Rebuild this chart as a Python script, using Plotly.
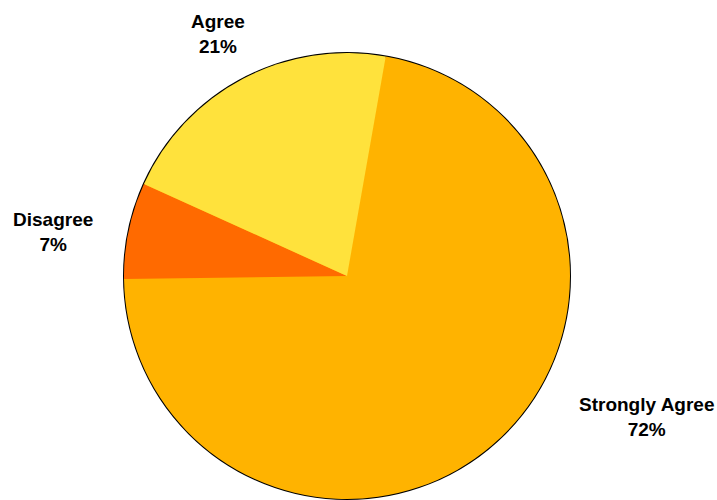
import plotly.graph_objects as go

labels = ["Strongly Agree", "Disagree", "Agree"]
values = [72, 7, 21]
colors = ["#FFB300", "#FF6A00", "#FFE23C"]
# label anchor positions (pixels) for the outside text
label_x = [647, 53, 218]
label_y = [417, 232, 34]

W, H = 717, 500
cx, cy, r = 347, 276, 223
domain = dict(x=[(cx - r) / W, (cx + r) / W], y=[(H - cy - r) / H, (H - cy + r) / H])

fig = go.Figure()
# outer rim only (slice separators have no outline in the reference)
fig.add_trace(go.Pie(
    labels=["rim"], values=[1], sort=False,
    marker=dict(colors=["#FFB300"], line=dict(color="#000000", width=2)),
    textinfo="none", hoverinfo="skip", showlegend=False, domain=domain,
))
fig.add_trace(go.Pie(
    labels=labels,
    values=values,
    sort=False,
    direction="clockwise",
    rotation=10,
    marker=dict(colors=colors, line=dict(width=0)),
    textinfo="none",
    hoverinfo="label+percent",
    showlegend=False,
    domain=domain,
))

total = sum(values)
for lab, v, lx, ly in zip(labels, values, label_x, label_y):
    fig.add_annotation(
        x=lx / W, y=1 - ly / H, xref="paper", yref="paper",
        text=f"<b>{lab}</b><br><b>{round(100 * v / total)}%</b>",
        showarrow=False, xanchor="center", yanchor="middle", align="center",
        font=dict(family="Liberation Sans, Arial, sans-serif", size=19, color="#000000"),
    )

fig.update_layout(
    width=W, height=H,
    margin=dict(l=0, r=0, t=0, b=0),
    paper_bgcolor="#FFFFFF",
    plot_bgcolor="#FFFFFF",
)

fig.write_html("out.html")
